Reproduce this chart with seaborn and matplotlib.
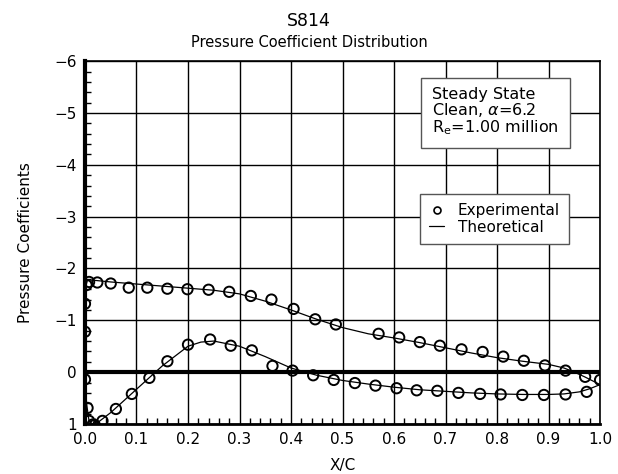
import matplotlib
matplotlib.use("Agg")
import numpy as np
import pandas as pd
import seaborn as sns
import matplotlib.pyplot as plt
from matplotlib.lines import Line2D
from matplotlib.ticker import MultipleLocator, FormatStrFormatter

# experimental points (upper and lower surface)
exp_x_upper = [0.0, 0.0, 0.0, 0.003, 0.008, 0.024, 0.05, 0.085, 0.121, 0.16, 0.199,
               0.24, 0.28, 0.322, 0.362, 0.405, 0.447, 0.487, 0.57, 0.61, 0.65,
               0.689, 0.731, 0.772, 0.812, 0.852, 0.893, 0.933, 0.971, 1.0]
exp_cp_upper = [0.14, -0.78, -1.32, -1.68, -1.74, -1.73, -1.71, -1.63, -1.63, -1.61, -1.60,
                -1.59, -1.55, -1.47, -1.40, -1.22, -1.02, -0.92, -0.74, -0.67, -0.58,
                -0.51, -0.44, -0.39, -0.30, -0.22, -0.13, -0.03, 0.09, 0.15]
exp_x_lower = [0.005, 0.008, 0.015, 0.019, 0.034, 0.06, 0.091, 0.125, 0.16, 0.2,
               0.243, 0.283, 0.324, 0.364, 0.403, 0.443, 0.483, 0.524, 0.564, 0.605,
               0.644, 0.684, 0.725, 0.767, 0.807, 0.849, 0.891, 0.933, 0.974]
exp_cp_lower = [0.69, 0.94, 1.01, 1.02, 0.94, 0.71, 0.42, 0.11, -0.21, -0.53,
                -0.63, -0.51, -0.42, -0.12, -0.03, 0.06, 0.15, 0.21, 0.26, 0.31,
                0.35, 0.36, 0.40, 0.42, 0.43, 0.44, 0.44, 0.43, 0.38]

# theoretical curve, trailing edge -> upper -> leading edge -> lower -> trailing edge
th_x = [1.0, 0.97, 0.95, 0.93, 0.9, 0.85, 0.8, 0.75, 0.7, 0.65, 0.6, 0.55, 0.5,
        0.45, 0.4, 0.35, 0.3, 0.25, 0.2, 0.15, 0.1, 0.05, 0.02, 0.005, 0.0,
        0.0, 0.0, 0.003, 0.008, 0.015, 0.025, 0.05, 0.1, 0.15, 0.2, 0.225, 0.25,
        0.3, 0.35, 0.4, 0.45, 0.5, 0.55, 0.6, 0.65, 0.7, 0.75, 0.8, 0.85, 0.9,
        0.93, 0.96, 0.98, 1.0]
th_cp = [0.24, 0.09, 0.0, -0.08, -0.15, -0.21, -0.28, -0.37, -0.47, -0.57, -0.66, -0.74, -0.86,
         -1.02, -1.2, -1.37, -1.51, -1.58, -1.62, -1.66, -1.70, -1.74, -1.77, -1.78, -1.6,
         -0.8, 0.0, 0.6, 0.95, 1.0, 0.97, 0.78, 0.33, -0.12, -0.5, -0.58, -0.6,
         -0.5, -0.3, -0.08, 0.06, 0.16, 0.23, 0.29, 0.34, 0.37, 0.4, 0.42, 0.43, 0.43,
         0.42, 0.38, 0.32, 0.24]

exp = pd.DataFrame({"x": exp_x_upper + exp_x_lower, "cp": exp_cp_upper + exp_cp_lower})
th = pd.DataFrame({"x": th_x, "cp": th_cp})

sns.set_style("white")
plt.rcParams["font.family"] = ["DejaVu Sans"]
plt.rcParams["mathtext.fontset"] = "dejavusans"
plt.rcParams["text.color"] = "black"
plt.rcParams["axes.labelcolor"] = "black"

fig = plt.figure(figsize=(6.18, 4.74), dpi=100)
ax = fig.add_axes([0.1375, 0.1055, 0.8335, 0.7655])

sns.lineplot(data=th, x="x", y="cp", sort=False, estimator=None, color="black",
             linewidth=0.9, ax=ax, zorder=3)
sns.scatterplot(data=exp, x="x", y="cp", marker="o", s=55, facecolor="none",
                edgecolor="black", linewidth=1.4, ax=ax, zorder=4)

ax.set_xlim(0, 1)
ax.set_ylim(1, -6)
ax.xaxis.set_major_locator(MultipleLocator(0.1))
ax.xaxis.set_minor_locator(MultipleLocator(0.02))
ax.xaxis.set_major_formatter(FormatStrFormatter("%.1f"))
ax.yaxis.set_major_locator(MultipleLocator(1))
ax.yaxis.set_minor_locator(MultipleLocator(0.2))
ax.grid(True, which="major", color="black", linewidth=1.0)
ax.axhline(0, color="black", linewidth=3, zorder=2)
ax.tick_params(which="both", direction="in", bottom=True, left=True, labelsize=11,
               colors="black")
ax.tick_params(which="major", length=0, pad=6)
ax.tick_params(which="minor", length=4, width=1)

for side in ["top", "right"]:
    ax.spines[side].set_linewidth(1.2)
ax.spines["left"].set_linewidth(3)
ax.spines["bottom"].set_linewidth(2)
for s in ax.spines.values():
    s.set_color("black")

ax.set_xlabel("X/C", fontsize=11, labelpad=8)
ax.set_ylabel("Pressure Coefficients", fontsize=11, labelpad=15)

fig.text(0.5, 0.955, "S814", ha="center", va="center", fontsize=12.5)
fig.text(0.5, 0.91, "Pressure Coefficient Distribution", ha="center", va="center", fontsize=10.5)

ax.text(0.674, 0.928, "Steady State\nClean, $\\alpha$=6.2\nR$_\\mathrm{e}$=1.00 million",
        transform=ax.transAxes, fontsize=11.5, va="top", ha="left", linespacing=0.92,
        bbox=dict(boxstyle="square,pad=0.7", facecolor="white", edgecolor="#555555",
                  linewidth=1), zorder=6)

handles = [Line2D([], [], marker="o", linestyle="none", markerfacecolor="none",
                  markeredgecolor="black", markersize=5, markeredgewidth=1.2),
           Line2D([], [], color="black", linewidth=0.9)]
leg = ax.legend(handles, ["Experimental", "Theoretical"], loc="upper left",
                bbox_to_anchor=(0.650, 0.634), fontsize=11, frameon=True,
                fancybox=False, edgecolor="#555555", framealpha=1,
                handlelength=1.0, handletextpad=0.9, borderpad=0.6, labelspacing=0.1,
                borderaxespad=0)
leg.get_frame().set_linewidth(1)
leg.set_zorder(6)

fig.savefig("out.png", dpi=100)
